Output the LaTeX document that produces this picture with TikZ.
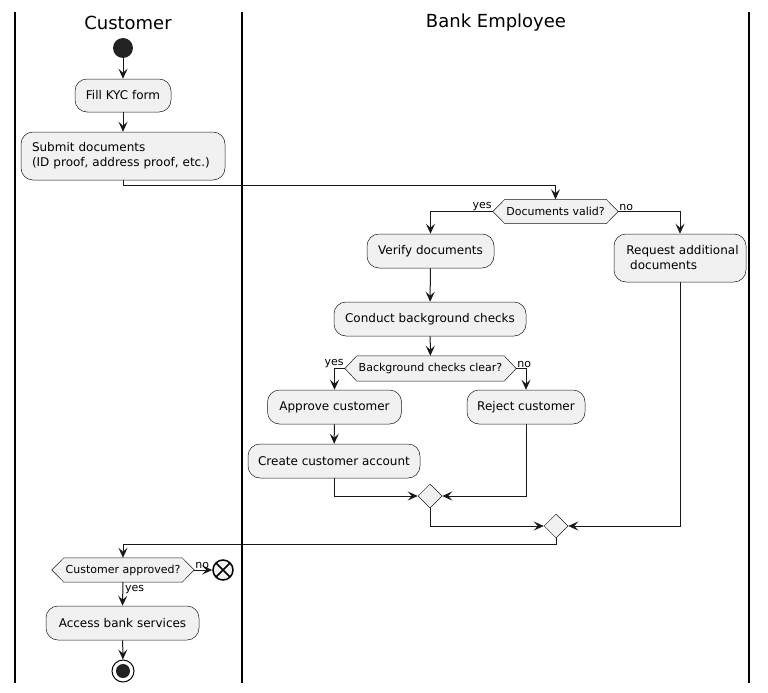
\documentclass[tikz,border=0pt]{standalone}
\usepackage{fontspec}
\setmainfont{DejaVu Sans}
\usetikzlibrary{arrows.meta,shapes.geometric,calc}
\pgfdeclarelayer{bg}
\pgfsetlayers{bg,main}
\definecolor{boxf}{HTML}{F1F1F1}
\definecolor{boxc}{HTML}{181818}
\definecolor{dotc}{HTML}{222222}
\newcommand\hexshape[1]{%
  \begin{pgfonlayer}{bg}
  \draw[draw=boxc,fill=boxf,line width=0.5pt] (#1.west) -- ($(#1.north west)+(12,0)$) -- ($(#1.north east)+(-12,0)$) -- (#1.east) -- ($(#1.south east)+(-12,0)$) -- ($(#1.south west)+(12,0)$) -- cycle;
  \end{pgfonlayer}}
\begin{document}
\begin{tikzpicture}[x=1pt,y=-1pt,
  act/.style={draw=boxc, fill=boxf, rounded corners=12pt, line width=0.5pt, inner sep=0pt, font=\fontsize{12}{15}\selectfont},
  hex/.style={inner sep=0pt, font=\fontsize{11}{13}\selectfont},
  merge/.style={diamond, aspect=1, draw=boxc, fill=boxf, line width=0.5pt, inner sep=0pt, minimum width=24pt, minimum height=24pt},
  lbl/.style={inner sep=1pt, font=\fontsize{11}{13}\selectfont},
  arr/.style={line width=1pt, draw=boxc, -{Stealth[length=10pt,width=9pt,inset=4pt]}},
  lane/.style={line width=1.5pt, draw=black},
  title/.style={font=\fontsize{18}{22}\selectfont}]
\useasboundingbox (0,0) rectangle (768,693);

% swimlanes
\coordinate (l1t) at (15,12); \coordinate (l1b) at (15,683);
\coordinate (l2t) at (242,12); \coordinate (l2b) at (242,683);
\coordinate (l3t) at (749,12); \coordinate (l3b) at (749,683);
\draw[lane] (l1t) -- (l1b);
\draw[lane] (l2t) -- (l2b);
\draw[lane] (l3t) -- (l3b);
\node[title] (t1) at (128,23) {Customer};
\node[title] (t2) at (496,23) {Bank Employee};

% nodes
\node[circle, fill=dotc, minimum size=20pt, inner sep=0pt] (start) at (123,48) {};
\node[act, minimum width=96pt, minimum height=33pt] (fill) at (123,95.5) {Fill KYC form};
\node[act, minimum width=204pt, minimum height=48pt, align=left, text width=182pt] (submit) at (123,156) {Submit documents\\(ID proof, address proof, etc.)};
\node[hex, minimum width=125pt, minimum height=24pt] (dv) at (555.5,211.5) {Documents valid?};
\hexshape{dv}
\node[act, minimum width=127pt, minimum height=34pt] (verify) at (430.5,251) {Verify documents};
\node[act, minimum width=132pt, minimum height=48pt, align=left] (request) at (680,258) {\hspace*{5pt}Request additional\\\hspace*{5pt}\ documents};
\node[act, minimum width=192pt, minimum height=34pt] (conduct) at (430,319) {Conduct background checks};
\node[hex, minimum width=171pt, minimum height=25pt] (bc) at (430.5,368.5) {Background checks clear?};
\hexshape{bc}
\node[act, minimum width=134pt, minimum height=34pt] (approve) at (334.5,407) {Approve customer};
\node[act, minimum width=118pt, minimum height=34pt] (reject) at (526,407) {Reject customer};
\node[act, minimum width=172pt, minimum height=34pt] (create) at (334,461) {Create customer account};
\node[merge] (m1) at (430,496) {};
\node[merge] (m2) at (556,526) {};
\node[hex, minimum width=142pt, minimum height=24pt] (ca) at (123,570) {Customer approved?};
\hexshape{ca}
\node[circle, draw=black, fill=boxf, line width=1.5pt, minimum size=20pt, inner sep=0pt] (xend) at (223,570) {};
\draw[line width=1.5pt] ($(xend)+(45:10)$) -- ($(xend)+(225:10)$);
\draw[line width=1.5pt] ($(xend)+(135:10)$) -- ($(xend)+(-45:10)$);
\node[act, minimum width=153pt, minimum height=34pt] (access) at (122.5,623) {Access bank services};
\node[circle, draw=black, fill=white, line width=1pt, minimum size=22pt, inner sep=0pt] (stop) at (123,671) {};
\node[circle, fill=dotc, minimum size=14pt, inner sep=0pt] (stopin) at (stop) {};

% connectors
\draw[arr] (start) -- (fill);
\draw[arr] (fill) -- (submit);
\draw[arr] (submit.south) -- (submit.south |- 0,185) -| (dv.north);
\draw[arr] (dv.west) -| (verify.north);
\node[lbl, anchor=south east] (ly1) at (dv.west) {yes};
\draw[arr] (dv.east) -| (request.north);
\node[lbl, anchor=south west] (ln1) at (dv.east) {no};
\draw[arr] (verify) -- (conduct);
\draw[arr] (conduct) -- (bc);
\draw[arr] (bc.west) -| (approve.north);
\node[lbl, anchor=south east] (ly2) at (bc.west) {yes};
\draw[arr] (bc.east) -| (reject.north);
\node[lbl, anchor=south west] (ln2) at (bc.east) {no};
\draw[arr] (approve) -- (create);
\draw[arr] (create.south) |- (m1.west);
\draw[arr] (reject.south) |- (m1.east);
\draw[arr] (m1.south) |- (m2.west);
\draw[arr] (request.south) |- (m2.east);
\draw[arr] (m2.south) -- (m2.south |- 0,544) -| (ca.north);
\draw[arr] (ca.east) -- (xend.west);
\node[lbl, anchor=south west] (ln3) at (ca.east) {no};
\draw[arr] (ca.south) -- (access.north);
\node[lbl, anchor=west] (ly3) at ($(ca.south)+(1,7)$) {yes};
\draw[arr] (access) -- (stop);
\end{tikzpicture}
\end{document}
